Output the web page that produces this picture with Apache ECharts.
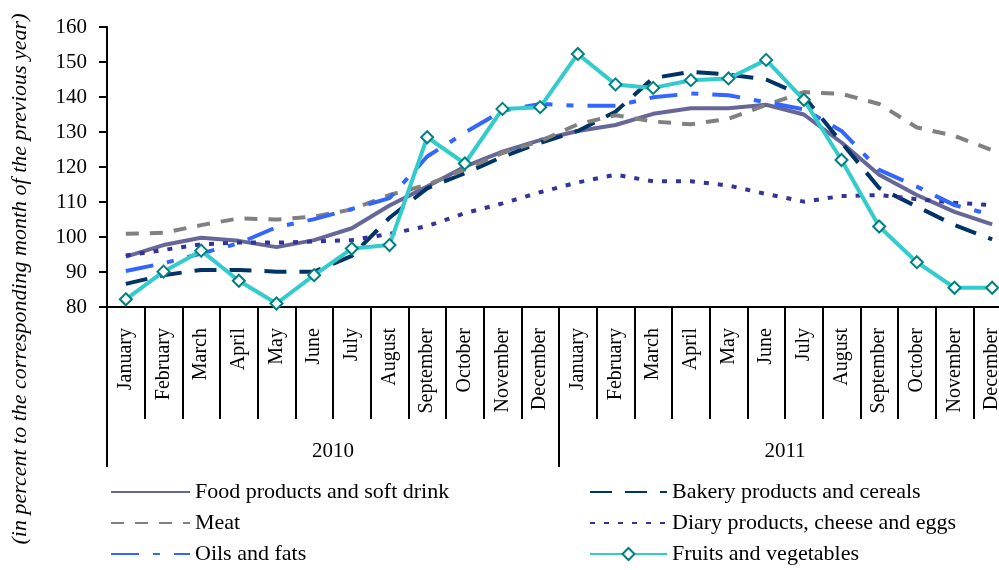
<!DOCTYPE html>
<html>
<head>
<meta charset="utf-8">
<script src="https://cdn.jsdelivr.net/npm/echarts@6/dist/echarts.min.js"></script>
<style>
html, body { margin: 0; padding: 0; background: #fff; }
#wrap { width: 999px; height: 570px; }
</style>
</head>
<body>
<div id="wrap"></div>
<script>
var months = ['January', 'February', 'March', 'April', 'May', 'June', 'July', 'August',
  'September', 'October', 'November', 'December',
  'January', 'February', 'March', 'April', 'May', 'June', 'July', 'August',
  'September', 'October', 'November', 'December'];
var years = ['2010', '2011'];

var food = [94.4, 97.7, 99.8, 98.9, 97.1, 99.1, 102.5, 109, 114.4, 120.1, 124.4, 127.7,
  130.3, 132, 135.2, 136.8, 136.8, 137.8, 135, 127, 117.8, 112, 107.2, 103.6];
var bakery = [86.6, 89.1, 90.6, 90.6, 90.1, 90.1, 94.6, 105.5, 113.9, 118.2, 122.9, 126.9,
  130.3, 135.8, 145.4, 147.2, 146.4, 145, 140.2, 127, 114, 108.7, 103.4, 99.3];
var meat = [100.9, 101.2, 103.4, 105.3, 105, 105.8, 107.9, 112, 114.9, 119.3, 124, 127.4,
  132.2, 134.8, 133, 132.2, 133.8, 137.7, 141.4, 140.9, 138, 131.3, 128.9, 124.8];
var diary = [94.7, 96.3, 97.9, 98.4, 98.4, 98.7, 99.1, 100.9, 103.1, 106.8, 109.6, 112.8,
  115.6, 117.8, 115.9, 115.9, 114.7, 112.3, 110.1, 111.7, 112, 110.8, 109.8, 109.1];
var oils = [90.3, 92.5, 95.3, 98.2, 102.8, 105.1, 108, 111.1, 123, 129.8, 136.1, 138,
  137.5, 137.5, 139.9, 141, 140.5, 138.5, 136.5, 130.3, 119.2, 114.4, 109.1, 106.3];
var fruits = [82.2, 90.1, 96.1, 87.5, 81, 89.1, 96.7, 97.7, 128.5, 121, 136.6, 137.1,
  152.3, 143.6, 142.6, 144.8, 145.3, 150.6, 139.2, 122, 103, 92.8, 85.5, 85.5];

var serif = '"Liberation Serif", "Times New Roman", serif';

function lineSeries(name, data, color, dash) {
  return {
    name: name,
    type: 'line',
    data: data,
    symbol: 'none',
    itemStyle: { color: color },
    lineStyle: { color: color, width: 4, type: dash, cap: 'butt' }
  };
}

// legend entries without a marker (only the line is shown)
function plain(name) {
  return { name: name, itemStyle: { opacity: 0 } };
}

var legendText = { fontFamily: serif, fontSize: 22, color: '#000', lineHeight: 20 };

var myChart = echarts.init(document.getElementById('wrap'));

var option = {
  animation: false,
  backgroundColor: '#fff',
  // the plot runs a little past the right edge of the picture, as in the original
  grid: { left: 107, width: 904, top: 27, bottom: 263, outerBoundsMode: 'none', containLabel: false },
  graphic: [{
    type: 'text',
    x: 20,
    y: 279,
    rotation: Math.PI / 2,
    style: {
      text: '(in percent to the corresponding month of the previous year)',
      font: 'italic 22px "Liberation Serif"',
      fill: '#000',
      align: 'center',
      verticalAlign: 'middle',
      textAlign: 'center',
      textVerticalAlign: 'middle'
    }
  }],
  legend: [{
    orient: 'vertical',
    left: 105,
    top: 476,
    height: 100,
    itemWidth: 79,
    itemHeight: 15,
    itemGap: 9,
    data: [plain('Food products and soft drink'), plain('Meat'), plain('Oils and fats')],
    textStyle: legendText
  }, {
    orient: 'vertical',
    left: 584,
    top: 476,
    height: 100,
    itemWidth: 77,
    itemHeight: 15,
    itemGap: 9,
    data: [plain('Bakery products and cereals'), plain('Diary products, cheese and eggs'), 'Fruits and vegetables'],
    textStyle: legendText
  }],
  xAxis: [{
    type: 'category',
    data: months,
    position: 'bottom',
    boundaryGap: true,
    axisLine: { show: true, lineStyle: { color: '#000', width: 2 } },
    axisTick: { show: true, interval: 0, length: 112, lineStyle: { color: '#000', width: 2 } },
    axisLabel: { interval: 0, rotate: 90, margin: 21, fontFamily: serif, fontSize: 20, color: '#000' }
  }, {
    type: 'category',
    data: years,
    position: 'bottom',
    boundaryGap: true,
    axisLine: { show: false },
    axisTick: { show: true, interval: 0, length: 160, lineStyle: { color: '#000', width: 2 } },
    axisLabel: { interval: 0, margin: 134, fontFamily: serif, fontSize: 21, color: '#000' }
  }],
  yAxis: {
    type: 'value',
    min: 80,
    max: 160,
    interval: 10,
    axisLine: { show: true, lineStyle: { color: '#000', width: 2 } },
    axisTick: { show: true, length: 8, lineStyle: { color: '#000', width: 2 } },
    splitLine: { show: false },
    axisLabel: { margin: 20, fontFamily: serif, fontSize: 21, color: '#000' }
  },
  series: [
    lineSeries('Food products and soft drink', food, '#666699', 'solid'),
    lineSeries('Bakery products and cereals', bakery, '#003366', [22, 13]),
    lineSeries('Meat', meat, '#808080', [13, 11]),
    lineSeries('Diary products, cheese and eggs', diary, '#333399', [5, 9]),
    lineSeries('Oils and fats', oils, '#3366ff', [28, 14, 7, 14]),
    {
      name: 'Fruits and vegetables',
      type: 'line',
      data: fruits,
      symbol: 'diamond',
      symbolSize: 12,
      showAllSymbol: true,
      itemStyle: { color: '#fff', borderColor: '#008080', borderWidth: 2 },
      lineStyle: { color: '#33cccc', width: 4 },
      z: 3
    }
  ]
};

myChart.setOption(option);
</script>
</body>
</html>
